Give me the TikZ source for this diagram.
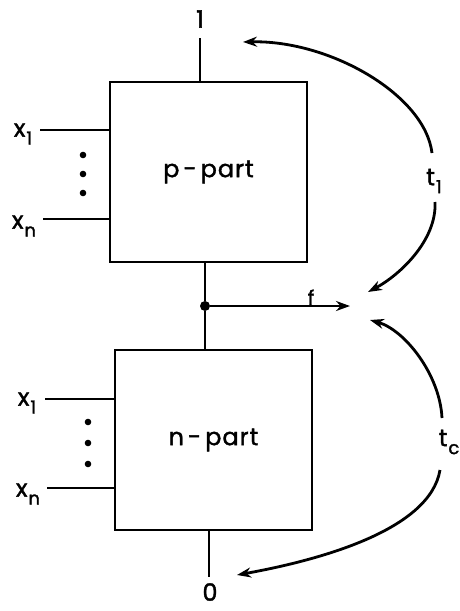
\documentclass[tikz,border=0pt]{standalone}
\usepackage{fontspec}
\setmainfont{Poppins}[FakeBold=1.6]
\usetikzlibrary{arrows.meta}
\newcommand\lowsub[2]{#1\hspace{1pt}\raisebox{-0.6ex}{\fontsize{18}{18}\selectfont #2}}
\tikzset{
  wire/.style={line width=2.8pt},
  part/.style={draw, line width=2.8pt, minimum width=197pt, minimum height=180pt,
    font=\fontsize{24}{26}\selectfont},
  lbl/.style={font=\fontsize{24}{26}\selectfont, inner sep=0pt},
  tip/.style={-{Stealth[length=14pt,width=10pt]}},
  dotc/.style={circle, fill, inner sep=0pt, minimum size=10pt},
}
\begin{document}
\begin{tikzpicture}[x=1pt,y=-1pt]
  \useasboundingbox (0,0) rectangle (459,611);

  % the two blocks
  \node[part] (p) at (208.5,172) {p\,-\,p\hspace{1pt}a\hspace{1pt}r\hspace{1pt}t};
  \node[part] (n) at (213.5,440) {n\,-\,p\hspace{1pt}a\hspace{1pt}r\hspace{1pt}t};

  % supply and ground terminals
  \coordinate (vdd) at (200,38);
  \coordinate (gnd) at (209,577);
  \node[lbl] (one) at (200,19) {1};
  \node[lbl] (zero) at (210,592) {0};
  \draw[wire] (vdd |- p.north) -- (vdd);
  \draw[wire] (gnd |- n.south) -- (gnd);

  % output junction
  \node[dotc] (j) at (205,306) {};
  \coordinate (fout) at (350,306);
  \draw[wire] (j |- p.south) -- (j);
  \draw[wire] (j) -- (j |- n.north);
  \draw[wire,tip] (j) -- (fout);
  \node[lbl, anchor=south, font=\fontsize{20}{20}\selectfont] (f) at (311,305) {f};

  % inputs of the p-part
  \coordinate (pa) at (40,130);
  \coordinate (pb) at (43,219);
  \draw[wire] (pa) -- (pa -| p.west);
  \draw[wire] (pb) -- (pb -| p.west);
  \node[lbl] (px1) at (23,134) {\lowsub{x}{1}};
  \node[lbl] (pxn) at (24,226) {\lowsub{x}{n}};
  \foreach \yy in {155,174,193} \fill (83,\yy) circle (3.3pt);

  % inputs of the n-part
  \coordinate (na) at (45,399);
  \coordinate (nb) at (47,488);
  \draw[wire] (na) -- (na -| n.west);
  \draw[wire] (nb) -- (nb -| n.west);
  \node[lbl] (nx1) at (27,403) {\lowsub{x}{1}};
  \node[lbl] (nxn) at (28,494) {\lowsub{x}{n}};
  \foreach \yy in {422,443,464} \fill (88,\yy) circle (3.3pt);

  % transition times
  \node[lbl] (t1) at (434,181) {\lowsub{t}{1}};
  \node[lbl] (tc) at (449,442) {\lowsub{t}{c}};
  \coordinate (a1) at (243,42);
  \coordinate (a2) at (368,292);
  \coordinate (a3) at (370,320);
  \coordinate (a4) at (237,575);
  \draw[wire,tip] (432,153) .. controls (425,95) and (330,40) .. (a1);
  \draw[wire,tip] (435,202) .. controls (437,240) and (400,275) .. (a2);
  \draw[wire,tip] (442,418) .. controls (440,375) and (405,330) .. (a3);
  \draw[wire,tip] (440,470) .. controls (430,530) and (320,560) .. (a4);
\end{tikzpicture}
\end{document}
